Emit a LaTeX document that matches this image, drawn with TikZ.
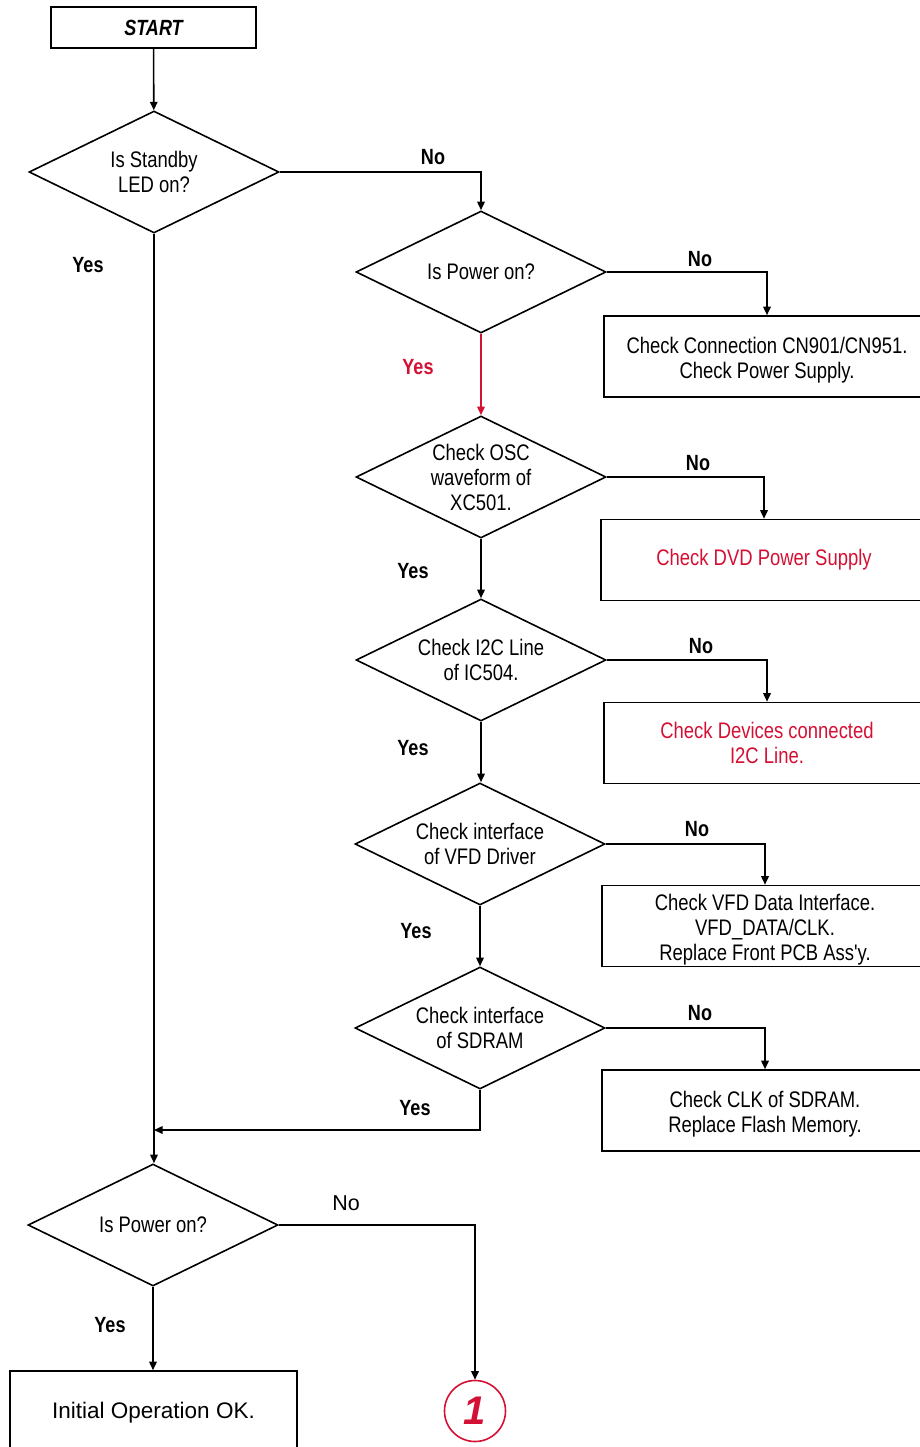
\documentclass[tikz,border=0pt]{standalone}
\usepackage{fontspec}
\setmainfont{Liberation Sans}
\newfontfamily\narrow{Liberation Sans}[FakeStretch=0.82]
\usetikzlibrary{shapes.geometric,arrows.meta}
\definecolor{fred}{RGB}{212,16,52}
\newcommand{\lowstrut}{\rule{0pt}{24pt}}
\tikzset{
  base/.style={font=\narrow\fontsize{22.5}{25}\selectfont},
  dia/.style={base, draw, shape=diamond, shape aspect=2.05, minimum width=250pt, minimum height=122pt, inner sep=0pt, align=center, line width=1.6pt},
  box/.style={base, draw, rectangle, minimum width=326pt, minimum height=81pt, inner sep=0pt, align=center, line width=1.6pt},
  lab/.style={font=\narrow\bfseries\fontsize{22}{24}\selectfont, inner sep=0pt, text depth=0pt},
  arr/.style={line width=1.6pt, -{Triangle[length=8.5pt,width=7.5pt]}},
}
\begin{document}
\begin{tikzpicture}[x=1pt,y=-1pt]
\useasboundingbox (0,0) rectangle (920,1447);
% nodes
\node[draw, line width=1.6pt, minimum width=205pt, minimum height=41pt, inner sep=0pt,
      font=\narrow\bfseries\itshape\fontsize{22}{24}\selectfont] (start) at (153.5,27.5) {START};
\node[dia] (d1) at (154,172) {Is Standby\\LED on?};
\node[dia] (d2) at (481,272) {Is Power on?};
\node[box] (b1) at (767,356.5) {\lowstrut Check Connection CN901/CN951.\\Check Power Supply.};
\node[dia] (d3) at (481,477) {Check OSC\\waveform of\\XC501.};
\node[box, text=fred] (b2) at (764,560) {Check DVD Power Supply};
\node[dia] (d4) at (481,660) {Check I2C Line\\of IC504.};
\node[box, text=fred] (b3) at (767,743) {Check Devices connected\\I2C Line.};
\node[dia] (d5) at (480,844) {Check interface\\of VFD Driver};
\node[box] (b4) at (765,926) {\lowstrut Check VFD Data Interface.\\VFD\_DATA/CLK.\\Replace Front PCB Ass'y.};
\node[dia] (d6) at (480,1028) {Check interface\\of SDRAM};
\node[box] (b5) at (765,1110.5) {\lowstrut Check CLK of SDRAM.\\Replace Flash Memory.};
\node[dia] (d7) at (153,1225) {Is Power on?};
\node[draw, line width=1.6pt, minimum width=287pt, minimum height=78pt, inner sep=0pt, text depth=0pt,
      font=\fontsize{22.5}{25}\selectfont] (fin) at (153.5,1410) {Initial Operation OK.};
\node[draw=fred, circle, line width=1.6pt, minimum size=61pt, inner sep=0pt, text=fred,
      font=\bfseries\itshape\fontsize{40}{40}\selectfont] (c1) at (475,1411) {1};
\coordinate (j) at (154,1130);
% labels
\node[lab] (l1) at (433,157) {No};
\node[lab] (l2) at (88,265) {Yes};
\node[lab] (l3) at (700,259) {No};
\node[lab, text=fred] (l4) at (418,367) {Yes};
\node[lab] (l5) at (698,463) {No};
\node[lab] (l6) at (413,571) {Yes};
\node[lab] (l7) at (701,646) {No};
\node[lab] (l8) at (413,748) {Yes};
\node[lab] (l9) at (697,829) {No};
\node[lab] (l10) at (416,931) {Yes};
\node[lab] (l11) at (700,1013) {No};
\node[lab] (l12) at (415,1108) {Yes};
\node[inner sep=0pt, text depth=0pt, font=\fontsize{21.5}{24}\selectfont] (l13) at (346,1203) {No};
\node[lab] (l14) at (110,1325) {Yes};
% connectors
\draw[arr] (start) -- (d1);
\draw[arr] (d1.east) -| (d2.north);
\draw[arr] (d2.east) -| (b1.north);
\draw[arr, draw=fred, -{Triangle[length=8.5pt,width=7.5pt,fill=fred]}] (d2) -- (d3);
\draw[arr] (d3.east) -| (b2.north);
\draw[arr] (d3) -- (d4);
\draw[arr] (d4.east) -| (b3.north);
\draw[arr] (d4.south) -- (d4.south |- d5.north);
\draw[arr] (d5.east) -| (b4.north);
\draw[arr] (d5) -- (d6);
\draw[arr] (d6.east) -| (b5.north);
\draw[arr] (d6.south) |- (j);
\draw[arr] (d1.south) -- (d1.south |- d7.north);
\draw[arr] (d7.east) -| (c1.north);
\draw[arr] (d7.south) -- (d7.south |- fin.north);
\end{tikzpicture}
\end{document}
